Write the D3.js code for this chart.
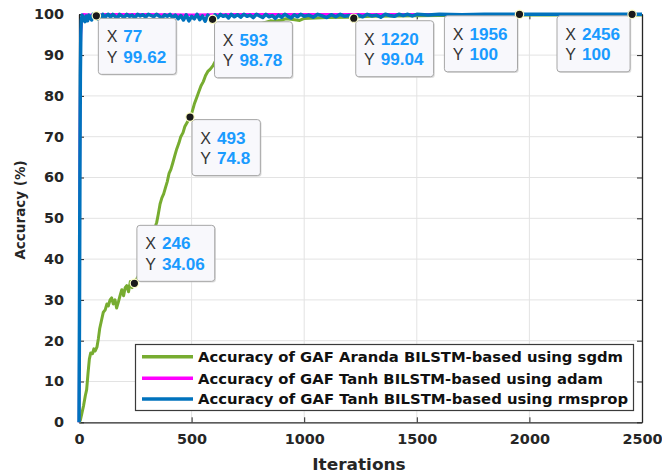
<!DOCTYPE html>
<html>
<head>
<meta charset="utf-8">
<script src="https://cdn.jsdelivr.net/npm/d3@7/dist/d3.min.js"></script>
<style>
  html, body { margin: 0; padding: 0; background: #fff; }
  svg { display: block; }
</style>
</head>
<body>
<svg id="chart" width="662" height="475"></svg>
<script>
// ---------------- DATA ----------------
const xTicks = [0, 500, 1000, 1500, 2000, 2500];
const yTicks = [0, 10, 20, 30, 40, 50, 60, 70, 80, 90, 100];

const seriesNames = [
  "Accuracy of GAF Aranda BILSTM-based using sgdm",
  "Accuracy of GAF Tanh BILSTM-based using adam",
  "Accuracy of GAF Tanh BILSTM-based using rmsprop"
];
const seriesColors = ["#77ac30", "#ff00ff", "#0072bd"];

// sgdm (green): [iteration, accuracy]
const sgdmData = [
  [0,0],[6,0.5],[12,2],[20,4],[28,6.5],[34,8],[40,12],[46,15.5],[52,17],[60,16.8],[66,18],
  [72,17.5],[80,18.5],[86,20.5],[92,23],[100,25],[108,27],[116,27.5],[124,29],[130,28.5],
  [138,30],[145,30.5],[152,29],[160,30],[167,28],[175,29.5],[182,31],[190,32.5],[198,31],
  [205,33],[212,33.5],[220,32],[228,34.5],[236,33],[246,34.06],[255,35],[265,36],[276,37],
  [286,38],[296,41],[306,43],[316,44],[326,46],[336,47.5],[345,49],[352,51],[360,53.5],
  [368,55],[376,56],[384,57.5],[392,59],[400,61],[408,62],[416,63.5],[426,65.5],[434,67],
  [444,68.5],[452,70],[462,71],[470,72.5],[480,73.5],[493,74.8],[502,76],[512,78],[522,79.5],
  [532,81],[542,82.5],[552,83.5],[562,85],[572,86],[582,86.5],[596,87.5],[620,90],[650,92.5],
  [680,94],[720,95.5],[760,97],[800,97.6],[850,98.4],[870,98.3],[900,98.6],[920,98.9],
  [950,98.7],[980,98.5],[1000,99.0],[1100,99.2],[1200,99.3],[1300,99.5],[1400,99.6],
  [1600,99.7],[2000,99.8],[2500,99.8]
];

// adam (magenta)
const adamData = [
  [0,0],[2,30],[4,70],[6,88],[9,96],[13,99],[18,100],[60,99.8],[120,100],[300,100],
  [500,99.9],[700,100],[1000,100],[1400,100],[1800,100],[2200,100],[2500,100]
];

// rmsprop (blue)
const rmspropData = [
  [0,0],[2,25],[4,60],[6,85],[8,95],[10,98.5],[14,99.8],[20,99],[26,98.2],[32,99.6],[38,98.4],
  [44,99.8],[50,99.2],[56,98.6],[62,100],[70,99.4],[77,99.62],[84,98.8],[90,99.9],[98,99.1],
  [106,100],[114,98.9],[122,99.7],[130,100],[140,99.3],[150,100],[160,99.5],[170,98.9],
  [180,100],[190,99.6],[200,99.2],[212,100],[224,99.5],[236,99.8],[248,99.1],[260,100],
  [272,99.6],[284,99.9],[296,99.3],[308,100],[320,99.7],[332,99.4],[344,100],[356,99.6],
  [368,99.0],[380,99.9],[392,99.5],[404,100],[416,99.2],[428,99.8],[440,98.9],[452,99.7],
  [464,98.6],[476,99.9],[488,98.4],[500,99.5],[512,98.9],[524,100],[536,98.7],[548,99.6],
  [560,98.3],[572,99.8],[582,99.0],[593,98.78],[604,99.9],[616,99.2],[628,100],[640,99.5],
  [652,99.8],[664,99.1],[676,100],[690,99.4],[704,99.9],[718,99.3],[732,100],[746,99.5],
  [760,99.8],[774,99.2],[788,100],[802,99.6],[816,99.2],[830,100],[844,99.4],[858,99.7],
  [872,99.0],[886,99.8],[900,99.3],[914,100],[928,99.5],[942,99.1],[956,99.9],[970,99.4],
  [984,100],[1000,99.5],[1020,99.8],[1040,99.3],[1060,100],[1080,99.6],[1100,99.2],
  [1120,99.9],[1140,99.4],[1160,100],[1180,99.5],[1200,99.7],[1220,99.04],[1240,99.8],
  [1260,99.4],[1280,100],[1300,99.6],[1320,99.8],[1340,99.3],[1360,100],[1380,99.7],
  [1400,99.5],[1420,100],[1440,99.7],[1460,100],[1480,99.6],[1500,100],[1550,99.8],
  [1600,100],[1700,99.9],[1800,100],[1956,100],[2100,100],[2300,100],[2456,100],[2500,100]
];

// data tips: [x, y, placement]
const dataTips = [
  [77, 99.62, "br"],
  [593, 98.78, "br"],
  [493, 74.8, "br"],
  [246, 34.06, "tr"],
  [1220, 99.04, "br"],
  [1956, 100, "bl"],
  [2456, 100, "bl"]
];

// ---------------- CHART ----------------
const svg = d3.select("#chart");
const X0 = 79, X1 = 642, Y0 = 422.3, Y1 = 14.3;
const x = d3.scaleLinear().domain([0, 2500]).range([X0, X1]);
const y = d3.scaleLinear().domain([0, 100]).range([Y0, Y1]);
const FONT = "'DejaVu Sans', sans-serif";
const fmt = d3.format("d");

function stretch(sel, factor) {
  sel.each(function() {
    const w = this.getComputedTextLength();
    d3.select(this).attr("textLength", w * factor).attr("lengthAdjust", "spacingAndGlyphs");
  });
}

// grid
svg.append("g").selectAll("line").data(xTicks.slice(1, -1)).join("line")
  .attr("x1", d => x(d)).attr("x2", d => x(d)).attr("y1", Y0).attr("y2", Y1)
  .attr("stroke", "#e3e3e3").attr("stroke-width", 1);
svg.append("g").selectAll("line").data(yTicks.slice(1, -1)).join("line")
  .attr("y1", d => y(d)).attr("y2", d => y(d)).attr("x1", X0).attr("x2", X1)
  .attr("stroke", "#e3e3e3").attr("stroke-width", 1);

// axes
const axisColor = "#262626";
const gx = svg.append("g").attr("transform", `translate(0,${Y0})`)
  .call(d3.axisBottom(x).tickValues(xTicks).tickFormat(fmt).tickSizeInner(-5).tickSizeOuter(0).tickPadding(12));
const gxTop = svg.append("g").attr("transform", `translate(0,${Y1})`)
  .call(d3.axisTop(x).tickValues(xTicks).tickSizeInner(-5).tickSizeOuter(0).tickFormat(""));
const gy = svg.append("g").attr("transform", `translate(${X0},0)`)
  .call(d3.axisLeft(y).tickValues(yTicks).tickFormat(fmt).tickSizeInner(-5).tickSizeOuter(0).tickPadding(15));
const gyR = svg.append("g").attr("transform", `translate(${X1},0)`)
  .call(d3.axisRight(y).tickValues(yTicks).tickSizeInner(-5).tickSizeOuter(0).tickFormat(""));
[gx, gxTop, gy, gyR].forEach(g => {
  g.selectAll("path").attr("stroke", axisColor).attr("stroke-width", 1.3);
  g.selectAll("line").attr("stroke", axisColor).attr("stroke-width", 1);
});
[gx, gy].forEach(g => {
  g.selectAll("text").attr("fill", axisColor).attr("font-family", FONT)
    .attr("font-weight", "bold").attr("font-size", 14);
});
gx.selectAll("text").attr("dy", "0.71em");
stretch(gx.selectAll("text"), 1.03);
stretch(gy.selectAll("text"), 1.03);

// axis labels
svg.append("text").attr("x", 359).attr("y", 470).attr("text-anchor", "middle")
  .attr("font-family", FONT).attr("font-weight", "bold").attr("font-size", 15)
  .attr("fill", axisColor).text("Iterations")
  .call(s => stretch(s, 1.13));
svg.append("text").attr("transform", "translate(25,210) rotate(-90)").attr("text-anchor", "middle")
  .attr("font-family", FONT).attr("font-weight", "bold").attr("font-size", 13.5)
  .attr("fill", axisColor).text("Accuracy (%)")
  .call(s => stretch(s, 1.0));

// lines
const line = d3.line().x(d => x(d[0])).y(d => y(d[1]));
const clip = svg.append("clipPath").attr("id", "clip").append("rect")
  .attr("x", X0 - 3).attr("y", Y1 - 3).attr("width", X1 - X0 + 3).attr("height", Y0 - Y1 + 6);
const lines = svg.append("g").attr("clip-path", "url(#clip)");
const allSeries = [sgdmData, adamData, rmspropData];
const widths = [3, 2.5, 3.5];
allSeries.forEach((data, i) => {
  lines.append("path").datum(data).attr("d", line).attr("fill", "none")
    .attr("stroke", seriesColors[i]).attr("stroke-width", widths[i])
    .attr("stroke-linejoin", "round");
});

// legend
const lg = svg.append("g");
lg.append("rect").attr("x", 135.5).attr("y", 344.5).attr("width", 498).attr("height", 66)
  .attr("fill", "#fff").attr("stroke", "#3a3a3a").attr("stroke-width", 1.2);
const legendRowY = [356.7, 378.3, 399];
const legendTextW = [425, 405, 430];
seriesNames.forEach((name, i) => {
  lg.append("line").attr("x1", 142).attr("x2", 193).attr("y1", legendRowY[i]).attr("y2", legendRowY[i])
    .attr("stroke", seriesColors[i]).attr("stroke-width", 3.5);
  lg.append("text").attr("x", 198).attr("y", legendRowY[i] + 5.2)
    .attr("font-family", FONT).attr("font-weight", "bold").attr("font-size", 14)
    .attr("fill", "#111").text(name)
    .attr("textLength", legendTextW[i]).attr("lengthAdjust", "spacingAndGlyphs");
});

// data tips
const tipG = svg.append("g");
dataTips.forEach(([tx, ty, place]) => {
  const px = x(tx), py = y(ty);
  const g = tipG.append("g");
  const tmp = g.append("text").attr("font-family", "'Liberation Sans', Arial, sans-serif")
    .attr("font-weight", "bold").attr("font-size", 16).text(String(tx));
  const vw = Math.max(
    tmp.text(String(tx)).node().getComputedTextLength(),
    tmp.text(String(ty)).node().getComputedTextLength()
  ) * 1.07;
  tmp.remove();
  const w = 25 + vw + 10, h = 56;
  let bx, by;
  if (place === "br") { bx = px + 2; by = py + 2.5; }
  else if (place === "tr") { bx = px + 2.5; by = py - 2 - h; }
  else { bx = px - 2 - w; by = py + 1.5; }
  g.append("rect").attr("x", bx + 1.2).attr("y", by + 1.2).attr("width", w).attr("height", h)
    .attr("rx", 3).attr("fill", "#c8c8c8").attr("opacity", 0.6);
  g.append("rect").attr("x", bx).attr("y", by).attr("width", w).attr("height", h)
    .attr("rx", 3).attr("fill", "#f8f8fc").attr("stroke", "#a6a6a6").attr("stroke-width", 1);
  [["X", tx, 24], ["Y", ty, 44.5]].forEach(([lab, val, off]) => {
    g.append("text").attr("x", bx + 8.3).attr("y", by + off)
      .attr("font-family", "'Liberation Sans', Arial, sans-serif").attr("font-size", 16)
      .attr("fill", "#333").text(lab);
    g.append("text").attr("x", bx + 25).attr("y", by + off)
      .attr("font-family", "'Liberation Sans', Arial, sans-serif").attr("font-weight", "bold")
      .attr("font-size", 16).attr("fill", "#1a9bff").text(String(val))
      .call(s => stretch(s, 1.07));
  });
  g.append("circle").attr("cx", px).attr("cy", py).attr("r", 4.2)
    .attr("fill", "#1a1a1a").attr("stroke", "#ffffc8").attr("stroke-width", 1.2);
});
</script>
</body>
</html>
